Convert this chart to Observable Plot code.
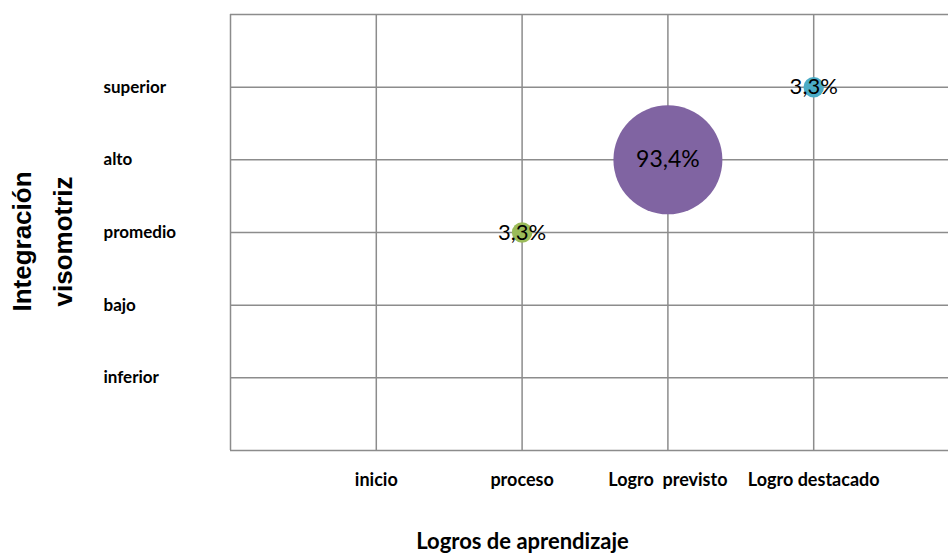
<!DOCTYPE html>
<html>
<head>
<meta charset="utf-8">
<script src="https://cdn.jsdelivr.net/npm/d3@7"></script>
<script src="https://cdn.jsdelivr.net/npm/@observablehq/plot@0.6"></script>
<style>
  html, body { margin: 0; padding: 0; background: #fff; }
  svg { display: block; }
</style>
</head>
<body>
<div id="chart"></div>
<script>
const xCategories = ["inicio", "proceso", "Logro  previsto", "Logro destacado"];
const yCategories = ["inferior", "bajo", "promedio", "alto", "superior"];

const bubbleX = ["proceso", "Logro  previsto", "Logro destacado"];
const bubbleY = ["promedio", "alto", "superior"];
const bubbleValue = [3.3, 93.4, 3.3];
const bubbleLabel = ["3,3%", "93,4%", "3,3%"];
const bubbleColor = ["#9BBB59", "#8064A2", "#4BACC6"];

const xTitle = "Logros de aprendizaje";
const yTitle = "Integración\nvisomotriz";

const data = bubbleValue.map((v, i) => ({
  x: xCategories.indexOf(bubbleX[i]) + 1,
  y: yCategories.indexOf(bubbleY[i]) + 1,
  value: v,
  label: bubbleLabel[i],
  color: bubbleColor[i]
}));

const gridStroke = "#8c8c8c";
const tickFont = "Lato, 'Open Sans', sans-serif";

const chart = Plot.plot({
  width: 948,
  height: 555,
  marginLeft: 230,
  marginRight: 0,
  marginTop: 14,
  marginBottom: 105,
  style: { fontFamily: tickFont, background: "#fff" },
  x: { domain: [0, 5], range: [230, 959] },
  y: { domain: [0, 6] },
  r: { domain: [0, 93.4], range: [0, 54.5] },
  marks: [
    Plot.gridX([0, 1, 2, 3, 4, 5], { stroke: gridStroke, strokeOpacity: 1, strokeWidth: 1.5 }),
    Plot.gridY([0, 1, 2, 3, 4, 5, 6], { stroke: gridStroke, strokeOpacity: 1, strokeWidth: 1.5 }),
    Plot.axisX([1, 2, 3, 4], {
      tickSize: 0,
      tickPadding: 0,
      tickFormat: d => xCategories[d - 1],
      fontSize: 18,
      fontWeight: "bold",
      fill: "#000",
      dy: 23,
      label: null
    }),
    Plot.axisY([1, 2, 3, 4, 5], {
      tickSize: 0,
      tickPadding: 0,
      tickFormat: d => yCategories[d - 1],
      textAnchor: "start",
      dx: -127,
      fontSize: 17,
      fontWeight: "bold",
      fill: "#000",
      label: null
    }),
    Plot.dot(data, { x: "x", y: "y", r: "value", fill: d => d.color, stroke: null }),
    Plot.text(data, {
      x: "x", y: "y", text: "label",
      fontSize: d => d.value > 50 ? 23 : 22,
      fill: "#000",
      fontFamily: tickFont
    }),
    Plot.text([xTitle], {
      frameAnchor: "bottom",
      text: d => d,
      dx: -67,
      dy: 98,
      fontSize: 22,
      fontWeight: "bold",
      fill: "#000",
      fontFamily: tickFont
    }),
    Plot.text([yTitle], {
      frameAnchor: "left",
      text: d => d,
      rotate: -90,
      textAnchor: "middle",
      dx: -192,
      dy: 9,
      fontSize: 26,
      lineHeight: 1.55,
      fontWeight: "bold",
      fill: "#000",
      fontFamily: "'Liberation Sans', Arial, sans-serif"
    })
  ]
});

document.getElementById("chart").appendChild(chart);
</script>
</body>
</html>
